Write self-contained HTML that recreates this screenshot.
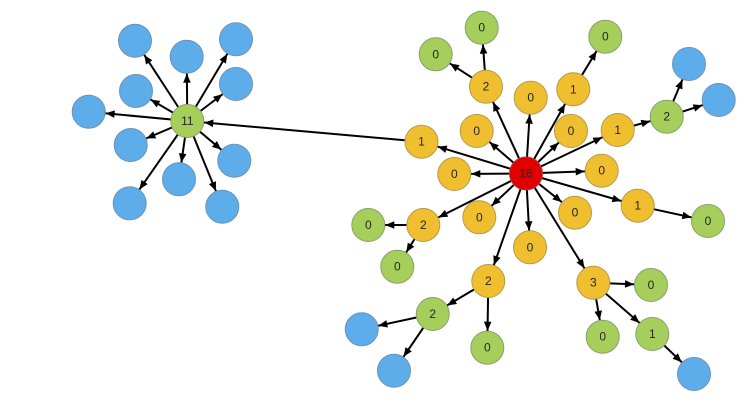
<!DOCTYPE html>
<html><head><meta charset="utf-8"><style>
html,body{margin:0;padding:0;background:#fff;}
svg{display:block;}
text{font-family:"Liberation Sans",sans-serif;font-size:12px;fill:#262626;text-anchor:middle;dominant-baseline:central;}
.b{fill:#5DADEB;stroke:#6E93B5;stroke-width:1;}
.y{fill:#F0BF2F;stroke:#B59A4A;stroke-width:1;}
.g{fill:#A5CF5A;stroke:#8A9E72;stroke-width:1;}
.r{fill:#E00000;stroke:#B04040;stroke-width:1;}
line{stroke:#000;stroke-width:2;marker-end:url(#a);}
</style></head><body>
<svg width="754" height="402" viewBox="0 0 754 402" xmlns="http://www.w3.org/2000/svg">
<defs>
<marker id="a" markerUnits="userSpaceOnUse" markerWidth="1" markerHeight="1" refX="0" refY="0" orient="auto" overflow="visible">
<path d="M-26,-3.8 L-17,0 L-26,3.8 Z" fill="#000"/>
</marker>
</defs>
<!-- left cluster edges -->
<line x1="187.3" y1="121" x2="135" y2="40.7"/>
<line x1="187.3" y1="121" x2="186.7" y2="56.7"/>
<line x1="187.3" y1="121" x2="236" y2="39.3"/>
<line x1="187.3" y1="121" x2="136" y2="91"/>
<line x1="187.3" y1="121" x2="236" y2="84"/>
<line x1="187.3" y1="121" x2="88.7" y2="111.7"/>
<line x1="187.3" y1="121" x2="130.7" y2="145"/>
<line x1="187.3" y1="121" x2="234.3" y2="160.7"/>
<line x1="187.3" y1="121" x2="179" y2="179.3"/>
<line x1="187.3" y1="121" x2="129.7" y2="203.3"/>
<line x1="187.3" y1="121" x2="222.3" y2="206.7"/>
<line x1="421.5" y1="141.7" x2="187.3" y2="121"/>
<!-- hub 16 edges -->
<line x1="526" y1="173.5" x2="486" y2="86.7"/>
<line x1="526" y1="173.5" x2="530.7" y2="97.7"/>
<line x1="526" y1="173.5" x2="573.3" y2="89.3"/>
<line x1="526" y1="173.5" x2="476.7" y2="131"/>
<line x1="526" y1="173.5" x2="571" y2="131"/>
<line x1="526" y1="173.5" x2="617.7" y2="130"/>
<line x1="526" y1="173.5" x2="421.5" y2="141.7"/>
<line x1="526" y1="173.5" x2="454.3" y2="174"/>
<line x1="526" y1="173.5" x2="601.7" y2="170.7"/>
<line x1="526" y1="173.5" x2="637.7" y2="205.7"/>
<line x1="526" y1="173.5" x2="575" y2="212.7"/>
<line x1="526" y1="173.5" x2="479.3" y2="217.3"/>
<line x1="526" y1="173.5" x2="423.3" y2="225"/>
<line x1="526" y1="173.5" x2="530" y2="247.3"/>
<line x1="526" y1="173.5" x2="488.3" y2="281"/>
<line x1="526" y1="173.5" x2="593.3" y2="282.7"/>
<!-- secondary edges -->
<line x1="486" y1="86.7" x2="481.7" y2="27.7"/>
<line x1="486" y1="86.7" x2="435.7" y2="54.3"/>
<line x1="573.3" y1="89.3" x2="605.3" y2="36.7"/>
<line x1="617.7" y1="130" x2="666.7" y2="116.7"/>
<line x1="666.7" y1="116.7" x2="689" y2="64"/>
<line x1="666.7" y1="116.7" x2="718.7" y2="100"/>
<line x1="637.7" y1="205.7" x2="708" y2="221"/>
<line x1="423.3" y1="225" x2="368.3" y2="225"/>
<line x1="423.3" y1="225" x2="397.3" y2="266.7"/>
<line x1="488.3" y1="281" x2="432.7" y2="314"/>
<line x1="488.3" y1="281" x2="487.3" y2="347.7"/>
<line x1="432.7" y1="314" x2="361.7" y2="329.3"/>
<line x1="432.7" y1="314" x2="394" y2="370.7"/>
<line x1="593.3" y1="282.7" x2="651" y2="285"/>
<line x1="593.3" y1="282.7" x2="602.7" y2="336.7"/>
<line x1="593.3" y1="282.7" x2="652.3" y2="334"/>
<line x1="652.3" y1="334" x2="694" y2="374"/>
<!-- left cluster nodes -->
<g class="b">
<circle cx="135" cy="40.7" r="16.5"/>
<circle cx="186.7" cy="56.7" r="16.5"/>
<circle cx="236" cy="39.3" r="16.5"/>
<circle cx="136" cy="91" r="16.5"/>
<circle cx="236" cy="84" r="16.5"/>
<circle cx="88.7" cy="111.7" r="16.5"/>
<circle cx="130.7" cy="145" r="16.5"/>
<circle cx="234.3" cy="160.7" r="16.5"/>
<circle cx="179" cy="179.3" r="16.5"/>
<circle cx="129.7" cy="203.3" r="16.5"/>
<circle cx="222.3" cy="206.7" r="16.5"/>
<circle cx="689" cy="64" r="16.5"/>
<circle cx="718.7" cy="100" r="16.5"/>
<circle cx="361.7" cy="329.3" r="16.5"/>
<circle cx="394" cy="370.7" r="16.5"/>
<circle cx="694" cy="374" r="16.5"/>
</g>
<circle class="g" cx="187.3" cy="121" r="16.5"/><text x="187.3" y="121">11</text>
<!-- right cluster -->
<circle class="r" cx="526" cy="173.5" r="16.5"/><text x="526" y="173.5">16</text>
<circle class="y" cx="486" cy="86.7" r="16.5"/><text x="486" y="86.7">2</text>
<circle class="y" cx="530.7" cy="97.7" r="16.5"/><text x="530.7" y="97.7">0</text>
<circle class="y" cx="573.3" cy="89.3" r="16.5"/><text x="573.3" y="89.3">1</text>
<circle class="y" cx="476.7" cy="131" r="16.5"/><text x="476.7" y="131">0</text>
<circle class="y" cx="571" cy="131" r="16.5"/><text x="571" y="131">0</text>
<circle class="y" cx="617.7" cy="130" r="16.5"/><text x="617.7" y="130">1</text>
<circle class="y" cx="421.5" cy="141.7" r="16.5"/><text x="421.5" y="141.7">1</text>
<circle class="y" cx="454.3" cy="174" r="16.5"/><text x="454.3" y="174">0</text>
<circle class="y" cx="601.7" cy="170.7" r="16.5"/><text x="601.7" y="170.7">0</text>
<circle class="y" cx="637.7" cy="205.7" r="16.5"/><text x="637.7" y="205.7">1</text>
<circle class="y" cx="575" cy="212.7" r="16.5"/><text x="575" y="212.7">0</text>
<circle class="y" cx="479.3" cy="217.3" r="16.5"/><text x="479.3" y="217.3">0</text>
<circle class="y" cx="423.3" cy="225" r="16.5"/><text x="423.3" y="225">2</text>
<circle class="y" cx="530" cy="247.3" r="16.5"/><text x="530" y="247.3">0</text>
<circle class="y" cx="488.3" cy="281" r="16.5"/><text x="488.3" y="281">2</text>
<circle class="y" cx="593.3" cy="282.7" r="16.5"/><text x="593.3" y="282.7">3</text>
<circle class="g" cx="481.7" cy="27.7" r="16.5"/><text x="481.7" y="27.7">0</text>
<circle class="g" cx="435.7" cy="54.3" r="16.5"/><text x="435.7" y="54.3">0</text>
<circle class="g" cx="605.3" cy="36.7" r="16.5"/><text x="605.3" y="36.7">0</text>
<circle class="g" cx="666.7" cy="116.7" r="16.5"/><text x="666.7" y="116.7">2</text>
<circle class="g" cx="708" cy="221" r="16.5"/><text x="708" y="221">0</text>
<circle class="g" cx="368.3" cy="225" r="16.5"/><text x="368.3" y="225">0</text>
<circle class="g" cx="397.3" cy="266.7" r="16.5"/><text x="397.3" y="266.7">0</text>
<circle class="g" cx="432.7" cy="314" r="16.5"/><text x="432.7" y="314">2</text>
<circle class="g" cx="487.3" cy="347.7" r="16.5"/><text x="487.3" y="347.7">0</text>
<circle class="g" cx="651" cy="285" r="16.5"/><text x="651" y="285">0</text>
<circle class="g" cx="602.7" cy="336.7" r="16.5"/><text x="602.7" y="336.7">0</text>
<circle class="g" cx="652.3" cy="334" r="16.5"/><text x="652.3" y="334">1</text>
</svg>
</body></html>
